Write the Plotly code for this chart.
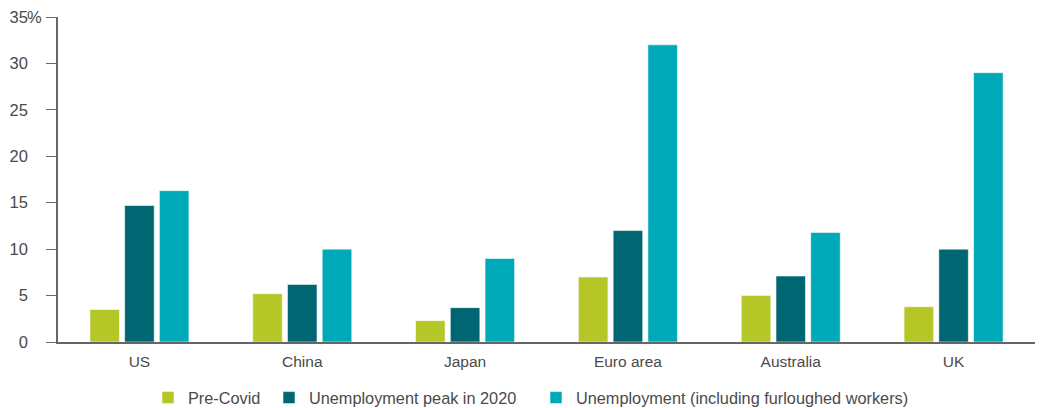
import plotly.graph_objects as go

categories = ["US", "China", "Japan", "Euro area", "Australia", "UK"]
pre_covid = [3.5, 5.2, 2.3, 7.0, 5.0, 3.8]
peak_2020 = [14.7, 6.2, 3.7, 12.0, 7.1, 10.0]
furlough = [16.3, 10.0, 9.0, 32.0, 11.8, 29.0]

tickvals = [0, 5, 10, 15, 20, 25, 30, 35]
ticktext = ["0", "5", "10", "15", "20", "25", "30", "35"]

series = [
    ("Pre-Covid", pre_covid, "#b5c627", "legend"),
    ("Unemployment peak in 2020", peak_2020, "#006671", "legend2"),
    ("Unemployment (including furloughed workers)", furlough, "#00a9b8", "legend3"),
]

FONT = "Liberation Sans, Arial, sans-serif"
TXT = "#4a4a4a"

fig = go.Figure()
for name, vals, color, lg in series:
    fig.add_trace(go.Bar(
        x=categories, y=vals, name=name, legend=lg,
        marker=dict(color=color, line=dict(color="rgba(255,255,255,0.55)", width=1)),
    ))

W, H = 1040, 408
ML, MR, MT, MB = 58, 5, 17, 66

def lx(px):
    return px / W

leg_common = dict(orientation="h", yref="container", xref="container",
                  yanchor="middle", y=(H - 398) / H, xanchor="left",
                  font=dict(family=FONT, size=16.3, color=TXT), itemwidth=30,
                  bgcolor="rgba(0,0,0,0)", borderwidth=0)

fig.update_layout(
    width=W, height=H,
    margin=dict(l=ML, r=MR, t=MT, b=MB, autoexpand=False),
    paper_bgcolor="white", plot_bgcolor="white",
    barmode="group", bargap=0.36, bargroupgap=0.15,
    font=dict(family=FONT, size=15, color=TXT),
    showlegend=True,
    legend=dict(x=lx(148), **leg_common),
    legend2=dict(x=lx(269), **leg_common),
    legend3=dict(x=lx(536), **leg_common),
    xaxis=dict(showline=True, linecolor="#666", linewidth=2, ticks="",
               showgrid=False, ticklabelstandoff=4,
               tickfont=dict(family=FONT, size=15.5, color=TXT)),
    yaxis=dict(range=[0, 35], tickvals=tickvals, ticktext=ticktext,
               showline=True, linecolor="#666", linewidth=1.5, ticks="outside",
               ticklen=10, tickcolor="#666", showgrid=False, zeroline=False,
               ticklabelstandoff=15,
               tickfont=dict(family=FONT, size=16.5, color=TXT)),
    annotations=[dict(text="%", xref="paper", yref="y", x=0, y=35,
                      xanchor="left", yanchor="middle", xshift=-33, showarrow=False,
                      font=dict(family=FONT, size=16.5, color=TXT))],
)

fig.write_html("out.html", config={"displayModeBar": False},
               post_script="document.body.style.margin='0';")
